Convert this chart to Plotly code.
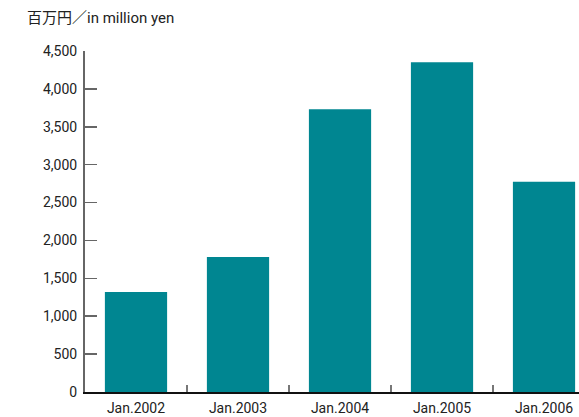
import plotly.graph_objects as go

categories = ["Jan.2002", "Jan.2003", "Jan.2004", "Jan.2005", "Jan.2006"]
values = [1320, 1780, 3730, 4350, 2775]
y_ticks = [0, 500, 1000, 1500, 2000, 2500, 3000, 3500, 4000, 4500]
y_tick_labels = ["0", "500", "1,000", "1,500", "2,000", "2,500", "3,000", "3,500", "4,000", "4,500"]
unit_label = "百万円／in million yen"

BAR = "#008691"
FONT = "Roboto, 'Noto Sans CJK JP', sans-serif"

fig = go.Figure(go.Bar(x=categories, y=values, marker=dict(color=BAR, line=dict(width=0)), width=0.61))

fig.update_layout(
    width=579, height=417,
    margin=dict(l=85, r=0, t=51, b=25, autoexpand=False),
    paper_bgcolor="white", plot_bgcolor="white",
    font=dict(family=FONT, size=14, color="#222"),
    showlegend=False,
)
fig.update_yaxes(
    range=[0, 4500], tickvals=y_ticks, ticktext=y_tick_labels,
    showgrid=False, zeroline=False, automargin=False,
    showline=True, linecolor="#666", linewidth=2,
    ticks="inside", ticklen=12, tickcolor="#666", tickwidth=1.5,
    ticklabelstandoff=3,
)
fig.update_xaxes(
    type="category", range=[-0.5, 4.343],
    showgrid=False, zeroline=False, automargin=False,
    showline=True, linecolor="#111", linewidth=1.5,
    ticks="inside", tickson="boundaries", ticklen=7, tickcolor="#777", tickwidth=1.5,
    ticklabelstandoff=3,
)
fig.add_annotation(
    text=unit_label, xref="paper", yref="paper",
    x=-0.121, y=1.097, xanchor="left", yanchor="middle",
    showarrow=False, font=dict(size=15, color="#222"),
)

fig.write_html(
    "out.html",
    config={"displayModeBar": False, "staticPlot": True},
    post_script="document.body.style.margin='0';document.body.style.overflow='hidden';",
)
